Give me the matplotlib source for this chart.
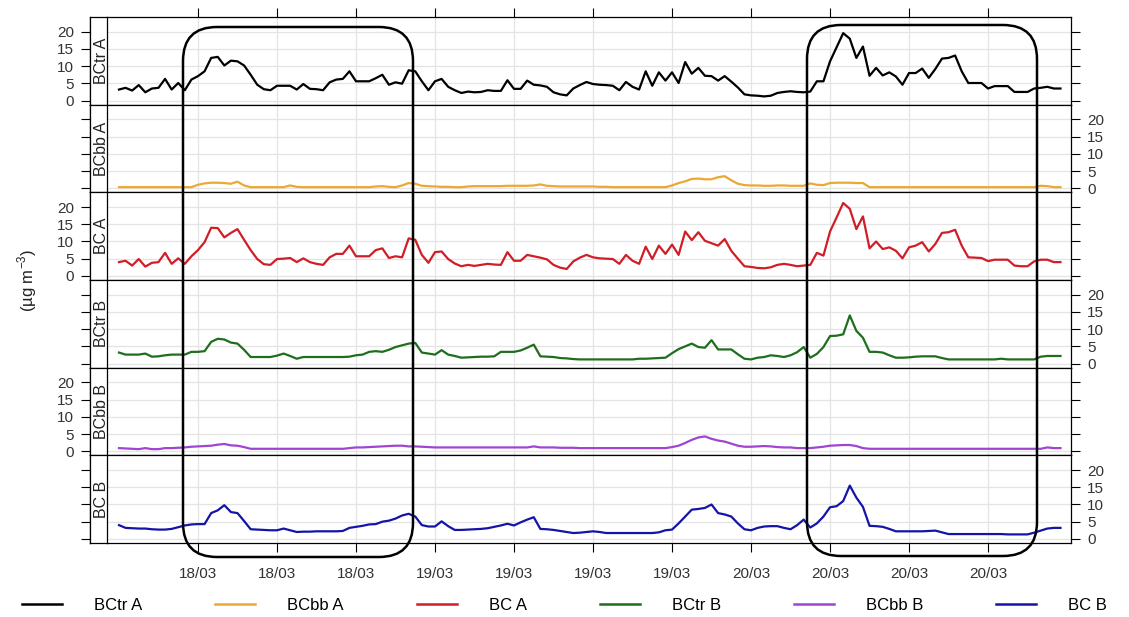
import numpy as np
import pandas as pd
import matplotlib
matplotlib.use('Agg')
import matplotlib.pyplot as plt
import matplotlib.dates as mdates
from matplotlib.patches import FancyBboxPatch
from matplotlib.transforms import IdentityTransform
from matplotlib.lines import Line2D

plt.rcParams['font.family'] = ['Liberation Sans', 'DejaVu Sans']
plt.rcParams['mathtext.fontset'] = 'custom'
plt.rcParams['mathtext.rm'] = 'Liberation Sans'

# half-hourly time axis, 18/03 00:00 -> 20/03 23:30
times = pd.date_range('2018-03-18 00:00', periods=144, freq='30min')

bctr_a = [3.2, 3.7, 2.9, 4.5, 2.4, 3.5, 3.7, 6.3, 3.2, 5.1, 3.0, 6.1,
          7.1, 8.5, 12.4, 12.7, 10.2, 11.6, 11.4, 10.2, 7.5, 4.6, 3.3, 3.0,
          4.3, 4.3, 4.3, 3.2, 4.8, 3.4, 3.3, 3.0, 5.3, 6.1, 6.3, 8.5,
          5.6, 5.6, 5.6, 6.5, 7.5, 4.6, 5.3, 4.9, 8.8, 8.5, 5.6, 3.0,
          5.6, 6.3, 4.0, 3.0, 2.2, 2.6, 2.4, 2.5, 3.0, 2.8, 2.8, 5.9,
          3.4, 3.4, 5.8, 4.6, 4.4, 4.0, 2.4, 1.8, 1.5, 3.5, 4.5, 5.4,
          4.8, 4.6, 4.5, 4.3, 3.0, 5.4, 4.0, 3.2, 8.5, 4.3, 8.2, 5.8,
          8.2, 5.1, 11.2, 7.8, 9.5, 7.2, 7.1, 5.8, 7.1, 5.5, 3.8, 1.8,
          1.5, 1.4, 1.2, 1.4, 2.2, 2.5, 2.7, 2.5, 2.4, 2.6, 5.6, 5.6,
          11.4, 15.5, 19.6, 18.0, 12.4, 15.7, 7.2, 9.5, 7.3, 8.2, 7.0, 4.6,
          8.0, 8.0, 9.3, 6.6, 9.2, 12.2, 12.4, 13.1, 8.5, 5.1, 5.1, 5.1,
          3.5, 4.2, 4.2, 4.2, 2.5, 2.5, 2.5, 3.5, 3.7, 4.0, 3.5, 3.5]

bcbb_a = [0.3, 0.3, 0.3, 0.3, 0.3, 0.3, 0.3, 0.3, 0.3, 0.3, 0.3, 0.3,
          1.0, 1.4, 1.6, 1.6, 1.5, 1.3, 1.9, 0.8, 0.3, 0.3, 0.3, 0.3,
          0.3, 0.3, 0.8, 0.4, 0.3, 0.3, 0.3, 0.3, 0.3, 0.3, 0.3, 0.3,
          0.3, 0.3, 0.3, 0.5, 0.6, 0.4, 0.3, 0.8, 1.5, 1.3, 0.7, 0.6,
          0.5, 0.4, 0.4, 0.3, 0.3, 0.5, 0.6, 0.6, 0.6, 0.6, 0.6, 0.7,
          0.7, 0.7, 0.7, 0.8, 1.1, 0.7, 0.6, 0.5, 0.5, 0.5, 0.5, 0.5,
          0.5, 0.4, 0.4, 0.3, 0.3, 0.3, 0.3, 0.3, 0.3, 0.3, 0.3, 0.3,
          0.8, 1.5, 2.0, 2.7, 2.8, 2.6, 2.6, 3.2, 3.5, 2.3, 1.3, 0.9,
          0.8, 0.8, 0.7, 0.7, 0.8, 0.8, 0.7, 0.7, 0.7, 1.4, 1.0, 0.9,
          1.5, 1.6, 1.6, 1.6, 1.5, 1.5, 0.3, 0.3, 0.3, 0.3, 0.3, 0.3,
          0.3, 0.3, 0.3, 0.3, 0.3, 0.3, 0.3, 0.3, 0.3, 0.3, 0.3, 0.3,
          0.3, 0.3, 0.3, 0.3, 0.3, 0.3, 0.3, 0.3, 0.7, 0.6, 0.3, 0.3]

bc_a = [4.0, 4.4, 3.0, 4.9, 2.7, 3.8, 4.0, 6.7, 3.5, 5.1, 3.5, 5.7,
        7.5, 9.8, 14.0, 13.9, 11.2, 12.5, 13.6, 10.5, 7.5, 4.9, 3.4, 3.2,
        4.9, 5.0, 5.2, 4.0, 5.1, 4.0, 3.5, 3.2, 5.4, 6.4, 6.4, 8.8,
        5.7, 5.7, 5.7, 7.5, 8.0, 5.2, 5.7, 5.4, 10.9, 10.5, 6.1, 3.8,
        6.9, 7.1, 4.9, 3.6, 2.8, 3.2, 2.9, 3.2, 3.5, 3.3, 3.2, 6.9,
        4.4, 4.4, 6.1, 5.7, 5.3, 4.8, 3.2, 2.4, 2.0, 4.2, 5.3, 6.1,
        5.4, 5.1, 5.0, 4.9, 3.5, 6.1, 4.4, 3.5, 8.5, 4.9, 8.8, 6.4,
        9.1, 6.1, 12.9, 10.4, 12.7, 10.2, 9.5, 8.8, 10.7, 7.3, 5.0, 2.8,
        2.6, 2.3, 2.2, 2.5, 3.2, 3.5, 3.2, 2.8, 3.0, 3.2, 6.7, 5.9,
        12.9, 17.0, 21.2, 19.5, 13.6, 17.3, 8.0, 10.0, 7.8, 8.3, 7.3, 5.1,
        8.3, 8.8, 9.8, 7.1, 9.3, 12.5, 12.7, 13.4, 8.8, 5.4, 5.3, 5.2,
        4.3, 4.7, 4.7, 4.7, 3.0, 2.8, 2.8, 4.2, 4.7, 4.7, 4.0, 4.0]

bctr_b = [3.2, 2.6, 2.6, 2.6, 2.9, 2.0, 2.1, 2.4, 2.6, 2.6, 2.6, 3.4,
          3.4, 3.6, 6.3, 7.2, 7.0, 6.1, 5.8, 4.0, 1.9, 1.9, 1.9, 1.9,
          2.3, 2.9, 2.2, 1.4, 1.9, 1.9, 1.9, 1.9, 1.9, 1.9, 1.9, 2.0,
          2.4, 2.6, 3.4, 3.6, 3.4, 4.0, 4.8, 5.3, 5.8, 6.0, 3.2, 2.9,
          2.6, 3.9, 2.6, 2.2, 1.7, 1.8, 1.9, 2.0, 2.0, 2.1, 3.4, 3.4,
          3.4, 3.8, 4.6, 5.5, 2.1, 2.0, 1.9, 1.6, 1.5, 1.3, 1.2, 1.2,
          1.2, 1.2, 1.2, 1.2, 1.2, 1.2, 1.2, 1.4, 1.4, 1.5, 1.6, 1.7,
          3.0, 4.2, 5.0, 5.8, 4.8, 4.6, 6.8, 4.1, 4.1, 4.1, 2.7, 1.4,
          1.2, 1.7, 1.9, 2.4, 2.2, 1.9, 2.4, 3.3, 4.8, 1.7, 2.8, 4.8,
          8.0, 8.1, 8.5, 14.0, 9.5, 7.5, 3.4, 3.4, 3.2, 2.4, 1.7, 1.7,
          1.8, 2.0, 2.1, 2.1, 2.1, 1.6, 1.2, 1.2, 1.2, 1.2, 1.2, 1.2,
          1.2, 1.2, 1.4, 1.2, 1.2, 1.2, 1.2, 1.2, 2.0, 2.2, 2.2, 2.2]

bcbb_b = [0.9, 0.8, 0.7, 0.6, 0.9, 0.6, 0.6, 0.9, 0.9, 1.0, 1.1, 1.3,
          1.4, 1.5, 1.6, 1.9, 2.1, 1.7, 1.6, 1.2, 0.7, 0.7, 0.7, 0.7,
          0.7, 0.7, 0.7, 0.7, 0.7, 0.7, 0.7, 0.7, 0.7, 0.7, 0.7, 0.9,
          1.1, 1.1, 1.2, 1.3, 1.4, 1.5, 1.6, 1.6, 1.4, 1.4, 1.3, 1.2,
          1.1, 1.1, 1.1, 1.1, 1.1, 1.1, 1.1, 1.1, 1.1, 1.1, 1.1, 1.1,
          1.1, 1.1, 1.1, 1.4, 1.1, 1.1, 1.1, 1.0, 1.0, 1.0, 0.9, 0.9,
          0.9, 0.9, 0.9, 0.9, 0.9, 0.9, 0.9, 0.9, 0.9, 0.9, 0.9, 0.9,
          1.2, 1.6, 2.4, 3.3, 4.0, 4.3, 3.6, 3.1, 2.8, 2.2, 1.6, 1.3,
          1.3, 1.4, 1.5, 1.4, 1.2, 1.1, 1.1, 0.9, 0.9, 0.9, 1.1, 1.3,
          1.6, 1.7, 1.8, 1.8, 1.5, 0.9, 0.7, 0.7, 0.7, 0.7, 0.7, 0.7,
          0.7, 0.7, 0.7, 0.7, 0.7, 0.7, 0.7, 0.7, 0.7, 0.7, 0.7, 0.7,
          0.7, 0.7, 0.7, 0.7, 0.7, 0.7, 0.7, 0.7, 0.7, 1.1, 0.9, 0.9]

bc_b = [4.0, 3.2, 3.1, 3.0, 3.0, 2.8, 2.7, 2.7, 2.9, 3.4, 3.9, 4.2,
        4.3, 4.3, 7.5, 8.3, 9.8, 7.8, 7.5, 5.2, 2.8, 2.7, 2.6, 2.5,
        2.5, 3.0, 2.5, 2.0, 2.1, 2.1, 2.2, 2.2, 2.2, 2.2, 2.3, 3.2,
        3.5, 3.8, 4.2, 4.3, 5.0, 5.3, 5.9, 6.8, 7.3, 6.5, 4.0, 3.6,
        3.6, 5.1, 3.7, 2.6, 2.6, 2.7, 2.8, 2.9, 3.1, 3.5, 3.9, 4.4,
        3.9, 4.8, 5.6, 6.3, 2.9, 2.8, 2.6, 2.3, 2.0, 1.7, 1.8, 2.0,
        2.2, 2.0, 1.7, 1.7, 1.7, 1.7, 1.7, 1.7, 1.7, 1.7, 1.9, 2.5,
        2.7, 4.5, 6.5, 8.5, 8.7, 9.0, 10.0, 7.5, 7.1, 6.5, 4.5, 2.8,
        2.5, 3.2, 3.6, 3.7, 3.7, 3.2, 2.8, 4.0, 5.6, 3.3, 4.5, 6.5,
        9.2, 9.5, 11.0, 15.5, 12.0, 9.3, 3.8, 3.7, 3.5, 2.9, 2.2, 2.2,
        2.2, 2.2, 2.2, 2.3, 2.4, 1.9, 1.4, 1.4, 1.4, 1.4, 1.4, 1.4,
        1.4, 1.4, 1.4, 1.3, 1.3, 1.3, 1.3, 1.8, 2.4, 3.0, 3.2, 3.2]

names = ['BCtr A', 'BCbb A', 'BC A', 'BCtr B', 'BCbb B', 'BC B']
colors = ['#000000', '#EBA832', '#D01E28', '#1E6E1E', '#A044D2', '#1414A8']
series = [bctr_a, bcbb_a, bc_a, bctr_b, bcbb_b, bc_b]

# layout in pixels
W, H = 1129, 617
left, right, top, bottom = 107, 1071, 17, 543
strip_left = 90
ph = (bottom - top) / 6

t0 = pd.Timestamp('2018-03-18 00:00')
xlim = (t0 - pd.Timedelta(hours=0.91), t0 + pd.Timedelta(hours=72.3))
xticks = [t0 + pd.Timedelta(hours=6 * k) for k in range(1, 12)]

fig = plt.figure(figsize=(W / 100, H / 100), dpi=100)

for i, (name, col, vals) in enumerate(zip(names, colors, series)):
    yb = 1 - (top + (i + 1) * ph) / H
    ax = fig.add_axes([left / W, yb, (right - left) / W, ph / H])
    ax.plot(times, vals, color=col, lw=1.6)
    ax.set_xlim(xlim)
    ax.set_ylim(-1.2, 24.3)
    ax.set_yticks([0, 5, 10, 15, 20])
    ax.set_xticks(xticks)
    ax.xaxis.set_major_formatter(mdates.DateFormatter('%d/%m'))
    ax.grid(color='#e4e4e4', lw=0.9)
    ax.set_axisbelow(True)
    for s in ax.spines.values():
        s.set_linewidth(0.9)
    ax.spines['left'].set_position(('outward', (left - strip_left) * 0.72))
    ax.tick_params(axis='y', left=True, right=True, direction='out', length=6.5,
                   width=0.8, pad=5, labelleft=(i % 2 == 0), labelright=(i % 2 == 1),
                   labelsize=11, labelcolor='#333333')
    ax.tick_params(axis='x', top=(i == 0), bottom=(i == 5), direction='out',
                   length=6.5, width=0.8, labeltop=False, labelbottom=(i == 5),
                   labelsize=11, labelcolor='#333333', pad=11)

    strip = fig.add_axes([strip_left / W, yb, (left - strip_left) / W, ph / H])
    strip.set_xticks([])
    strip.set_yticks([])
    for s in strip.spines.values():
        s.set_linewidth(0.9)
    strip.text(0.96, 0.5, name, rotation=90, rotation_mode='anchor',
               ha='center', va='baseline', transform=strip.transAxes,
               fontsize=11.5, color='#222222')

fig.text(27 / W, 1 - 280 / H, '(µg m$^{-3}$)', rotation=90, ha='center',
         va='center', fontsize=12, color='#222222')

# highlighted episodes
for x0, y0, x1, y1 in [(183, 27, 413, 557), (807, 25, 1037, 556)]:
    box = FancyBboxPatch((x0, H - y1), x1 - x0, y1 - y0,
                         boxstyle='round,pad=0,rounding_size=34',
                         transform=IdentityTransform(), fill=False,
                         ec='black', lw=1.8)
    fig.add_artist(box)

handles = [Line2D([], [], color=c, lw=1.8) for c in colors]
fig.legend(handles, names, loc='center', bbox_to_anchor=(0.5, 1 - 605 / H),
           ncol=6, frameon=False, fontsize=12, handlelength=2.4,
           handletextpad=1.9, columnspacing=4.4)

fig.savefig('out.png', dpi=100)
